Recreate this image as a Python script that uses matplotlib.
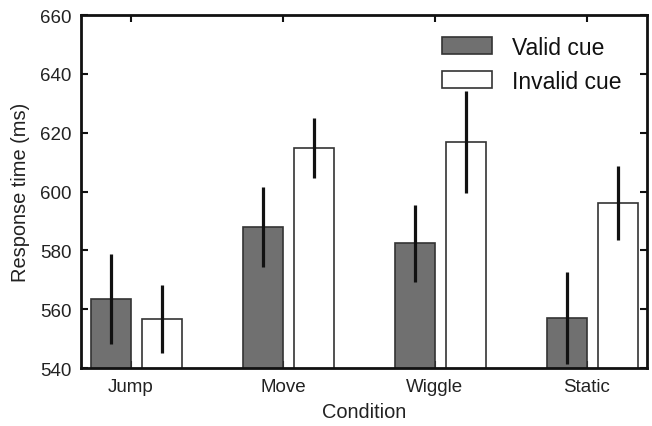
import matplotlib
matplotlib.use("Agg")
import matplotlib.pyplot as plt
import numpy as np

plt.rcParams['font.family'] = ['Liberation Sans', 'DejaVu Sans']

conditions = ["Jump", "Move", "Wiggle", "Static"]
valid_means = [563.5, 588.0, 582.4, 557.0]
valid_err = [15.2, 13.5, 13.0, 15.8]
invalid_means = [556.7, 614.8, 616.8, 596.1]
invalid_err = [11.6, 10.3, 17.4, 12.5]
yticks = [540, 560, 580, 600, 620, 640, 660]

fig = plt.figure(figsize=(6.52, 4.27), dpi=100)
ax = fig.add_axes([0.1242, 0.1358, 0.8681, 0.8267])

x = np.arange(len(conditions))
w = 0.263
gap = 0.07
ax.bar(x, valid_means, width=-w, align='edge', color='#707070', edgecolor='#333333',
       linewidth=1.2, label='Valid cue', zorder=2)
ax.bar(x + gap, invalid_means, width=w, align='edge', color='white', edgecolor='#333333',
       linewidth=1.2, label='Invalid cue', zorder=2)
ax.errorbar(x - w / 2, valid_means, yerr=valid_err, fmt='none', ecolor='#111111',
            elinewidth=2.3, capsize=0, zorder=3)
ax.errorbar(x + gap + w / 2, invalid_means, yerr=invalid_err, fmt='none', ecolor='#111111',
            elinewidth=2.3, capsize=0, zorder=3)

ax.set_xlim(-0.329, 3.395)
ax.set_ylim(540, 660)
ax.set_yticks(yticks)
ax.set_xticks(x)
ax.set_xticklabels(conditions)
ax.tick_params(direction='in', length=5, width=1.5, labelsize=13.5, top=True, right=True,
               color='#111111', labelcolor='#222222', pad=7)
for s in ax.spines.values():
    s.set_linewidth(2)
    s.set_color('#111111')
ax.set_xlabel('Condition', fontsize=14.4, labelpad=5, color='#222222')
ax.set_ylabel('Response time (ms)', fontsize=14.4, labelpad=7, color='#222222')

leg = ax.legend(loc='upper right', frameon=False, fontsize=16.5, handlelength=2.18,
                handleheight=0.79, handletextpad=0.87, labelspacing=0.48,
                bbox_to_anchor=(0.991, 1.0))
for t in leg.get_texts():
    t.set_color('#111111')

fig.savefig('out.png', dpi=100)
